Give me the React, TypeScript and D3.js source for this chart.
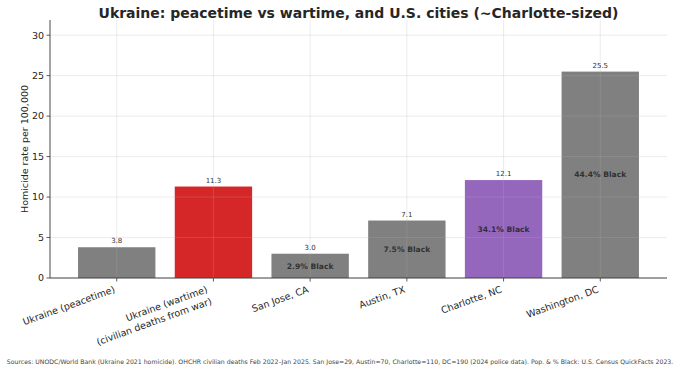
import * as d3 from 'd3';

const LABELS = [
  ['Ukraine (peacetime)'],
  ['Ukraine (wartime)', '(civilian deaths from war)'],
  ['San Jose, CA'],
  ['Austin, TX'],
  ['Charlotte, NC'],
  ['Washington, DC'],
];
const RATES = [3.8, 11.3, 3.0, 7.1, 12.1, 25.5];
const BLACK_SHARE = [null, null, '2.9% Black', '7.5% Black', '34.1% Black', '44.4% Black'];
const COLORS = ['#808080', '#d62728', '#808080', '#808080', '#9467bd', '#808080'];
const Y_TICKS = [0, 5, 10, 15, 20, 25, 30];

const VW = 680;
const VH = 370;
const M = { top: 20, right: 13, bottom: 92, left: 50 };
const W = VW - M.left - M.right;
const H = VH - M.top - M.bottom;

const FONT = '"DejaVu Sans", sans-serif';
const TEXT = '#262626';

const x = d3.scaleBand<number>()
  .domain(d3.range(RATES.length))
  .range([0, W])
  .paddingInner(0.2)
  .paddingOuter(0.29);

const y = d3.scaleLinear()
  .domain([0, d3.max(RATES)! * 1.25])
  .range([H, 0]);

export default function App() {
  const bw = x.bandwidth();
  const ang = 20 * Math.PI / 180;
  const lh = 12.6;
  return (
    <svg width={VW} height={VH} viewBox={`0 0 ${VW} ${VH}`}
      style={{ display: 'block', position: 'absolute', left: 0, top: 0, background: '#fff' }}>
      <text x={M.left + W / 2} y={18} textAnchor="middle" fontSize={14} fontWeight={700}
        fill={TEXT} fontFamily={FONT}>
        Ukraine: peacetime vs wartime, and U.S. cities (~Charlotte-sized)
      </text>

      <g transform={`translate(${M.left},${M.top})`}>
        {RATES.map((v, i) => (
          <rect key={`b${i}`} x={x(i)!} y={y(v)} width={bw} height={H - y(v)} fill={COLORS[i]} />
        ))}

        {/* grid sits on top of the bars, faint */}
        {Y_TICKS.map(t => (
          <line key={`gy${t}`} x1={0} x2={W} y1={y(t)} y2={y(t)}
            stroke="#b0b0b0" strokeOpacity={0.3} strokeWidth={0.8} />
        ))}
        {RATES.map((_, i) => (
          <line key={`gx${i}`} x1={x(i)! + bw / 2} x2={x(i)! + bw / 2} y1={0} y2={H}
            stroke="#b0b0b0" strokeOpacity={0.3} strokeWidth={0.8} />
        ))}

        {RATES.map((v, i) => (
          <text key={`v${i}`} x={x(i)! + bw / 2} y={y(v) - 4} textAnchor="middle"
            fontSize={7} fill="#333" fontFamily={FONT}>
            {v.toFixed(1)}
          </text>
        ))}
        {RATES.map((v, i) => BLACK_SHARE[i] && (
          <text key={`s${i}`} x={x(i)! + bw / 2} y={(y(v) + H) / 2} dy="0.35em" textAnchor="middle"
            fontSize={7.6} fontWeight={700} fill="#222" fillOpacity={0.85} fontFamily={FONT}>
            {BLACK_SHARE[i]}
          </text>
        ))}

        <line x1={0} x2={0} y1={0} y2={H} stroke="#333" strokeWidth={0.9} />
        <line x1={0} x2={W} y1={H} y2={H} stroke="#333" strokeWidth={0.9} />

        {Y_TICKS.map(t => (
          <g key={`yt${t}`}>
            <line x1={-3.5} x2={0} y1={y(t)} y2={y(t)} stroke="#333" strokeWidth={0.8} />
            <text x={-6} y={y(t)} dy="0.35em" textAnchor="end" fontSize={9.5}
              fill={TEXT} fontFamily={FONT}>{t}</text>
          </g>
        ))}
        <text transform={`translate(${28 - M.left},${H / 2}) rotate(-90)`} textAnchor="middle"
          fontSize={9.5} fill={TEXT} fontFamily={FONT}>
          Homicide rate per 100,000
        </text>

        {LABELS.map((lines, i) => {
          const cx = x(i)! + bw / 2;
          return (
            <g key={`xt${i}`}>
              <line x1={cx} x2={cx} y1={H} y2={H + 3.5} stroke="#333" strokeWidth={0.8} />
              {lines.map((s, j) => {
                const ex = cx - 1 - (lines.length - 1 - j) * Math.sin(ang) * lh;
                const ey = H + 14 + j * Math.cos(ang) * lh;
                return (
                  <text key={j} transform={`translate(${ex},${ey}) rotate(-20)`} textAnchor="end"
                    fontSize={9.5} fill={TEXT} fontFamily={FONT}>{s}</text>
                );
              })}
            </g>
          );
        })}
      </g>

      <text x={VW / 2} y={364} textAnchor="middle" fontSize={6.2} fill="#444" fontFamily={FONT}>
        Sources: UNODC/World Bank (Ukraine 2021 homicide). OHCHR civilian deaths Feb 2022–Jan 2025. San Jose=29, Austin=70, Charlotte=110, DC=190 (2024 police data). Pop. &amp; % Black: U.S. Census QuickFacts 2023.
      </text>
    </svg>
  );
}
